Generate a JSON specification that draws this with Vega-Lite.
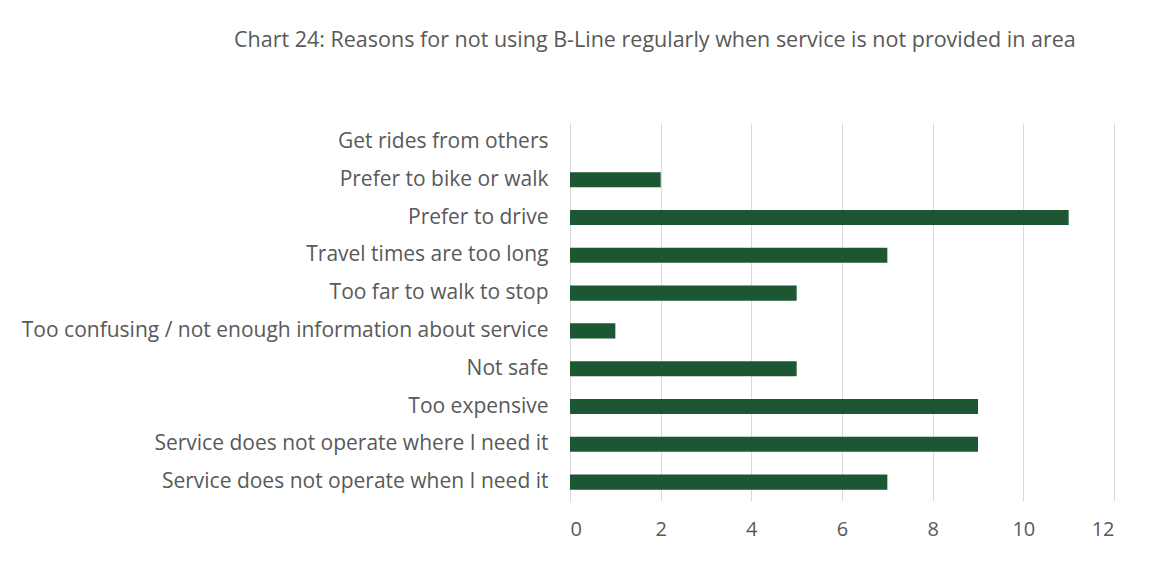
{
  "$schema": "https://vega.github.io/schema/vega-lite/v6.json",
  "autosize": {"type": "none"},
  "width": 544,
  "height": 378,
  "padding": {"left": 570, "top": 123, "right": 37, "bottom": 60},
  "background": "white",
  "title": {
    "text": "Chart 24: Reasons for not using B-Line regularly when service is not provided in area",
    "anchor": "start",
    "frame": "group",
    "dx": -336,
    "offset": 72,
    "font": "Open Sans",
    "fontSize": 21.5,
    "fontWeight": "normal",
    "color": "#595959"
  },
  "data": {
    "values": [
      {"reason": "Get rides from others", "count": 0},
      {"reason": "Prefer to bike or walk", "count": 2},
      {"reason": "Prefer to drive", "count": 11},
      {"reason": "Travel times are too long", "count": 7},
      {"reason": "Too far to walk to stop", "count": 5},
      {"reason": "Too confusing / not enough information about service", "count": 1},
      {"reason": "Not safe", "count": 5},
      {"reason": "Too expensive", "count": 9},
      {"reason": "Service does not operate where I need it", "count": 9},
      {"reason": "Service does not operate when I need it", "count": 7}
    ]
  },
  "mark": {"type": "bar", "color": "#1D5632"},
  "encoding": {
    "y": {
      "field": "reason",
      "type": "nominal",
      "sort": null,
      "title": null,
      "scale": {"paddingInner": 0.6, "paddingOuter": 0.3},
      "axis": {
        "domain": true,
        "domainColor": "#d9d9d9",
        "ticks": false,
        "grid": false,
        "labelPadding": 22,
        "labelFont": "Open Sans",
        "labelFontSize": 21,
        "labelColor": "#595959",
        "labelLimit": 0
      }
    },
    "x": {
      "field": "count",
      "type": "quantitative",
      "title": null,
      "scale": {"domain": [0, 12], "nice": false},
      "axis": {
        "values": [0, 2, 4, 6, 8, 10, 12],
        "domain": false,
        "ticks": false,
        "grid": true,
        "gridColor": "#d9d9d9",
        "labelPadding": 18,
        "labelFont": "Open Sans",
        "labelFontSize": 20,
        "labelColor": "#595959"
      }
    }
  },
  "config": {"view": {"stroke": null}}
}
